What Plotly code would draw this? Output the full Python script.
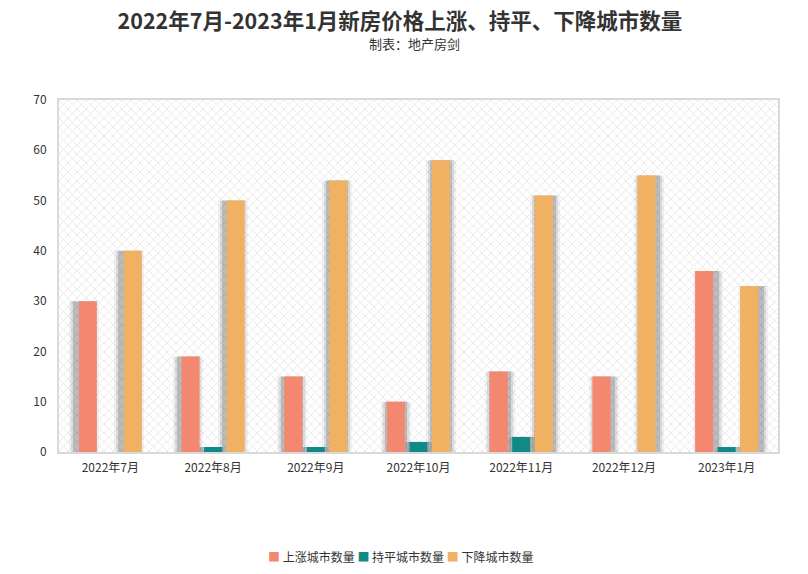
import base64
import plotly.graph_objects as go

months = ["2022年7月", "2022年8月", "2022年9月", "2022年10月", "2022年11月", "2022年12月", "2023年1月"]
rise = [30, 19, 15, 10, 16, 15, 36]
flat = [0, 1, 1, 2, 3, 0, 1]
fall = [40, 50, 54, 58, 51, 55, 33]
names = ["上涨城市数量", "持平城市数量", "下降城市数量"]
colors = ["#F4876F", "#0F8A86", "#F0B262"]
series = [rise, flat, fall]

font = "Noto Sans CJK SC, Microsoft YaHei, sans-serif"

# geometry (in category units): one category ~ 102.7 px
px = 1 / 102.7
bar_w = 18 * px
slot = 22.5 * px
slot_offsets = [-slot, 0.0, slot]

fig = go.Figure()

# soft drop shadows (drawn first so they sit beneath the bars)
n = len(months)
for k, vals in enumerate(series):
    base_off = slot_offsets[k] - bar_w / 2
    for extra, alpha in [(12, 0.05), (8, 0.09), (4, 0.15)]:
        offs = [base_off - extra / 2 * px + (i - (n - 1) / 2) * 1.3 * px for i in range(n)]
        fig.add_trace(go.Bar(
            x=months, y=vals, width=bar_w + extra * px, offset=offs,
            marker=dict(color=f"rgba(0,0,0,{alpha})", line=dict(width=0)),
            showlegend=False, hoverinfo="skip"))

for k, (name, vals, col) in enumerate(zip(names, series, colors)):
    fig.add_trace(go.Bar(
        x=months, y=vals, name=name, width=bar_w, offset=slot_offsets[k] - bar_w / 2,
        marker=dict(color=col, line=dict(width=0)), showlegend=False))

# hatch background for the plot area
svg = ('<svg xmlns="http://www.w3.org/2000/svg" width="719" height="352">'
       '<defs><pattern id="p" width="9" height="9" patternUnits="userSpaceOnUse">'
       '<path d="M0,0 L9,9 M9,0 L0,9" stroke="#ebebeb" stroke-width="1" fill="none"/>'
       '</pattern></defs><rect width="100%" height="100%" fill="white"/>'
       '<rect width="100%" height="100%" fill="url(#p)"/></svg>')
svg_uri = "data:image/svg+xml;base64," + base64.b64encode(svg.encode()).decode()

legend_text = " ".join(
    f"<span style='color:{c}'>■</span> {nm}" for nm, c in zip(names, colors))

fig.update_layout(
    width=808, height=574,
    margin=dict(l=59, r=30, t=100, b=122),
    barmode="overlay",
    paper_bgcolor="white", plot_bgcolor="rgba(0,0,0,0)",
    font=dict(family=font, size=12, color="#333333"),
    title=dict(text="<b>2022年7月-2023年1月新房价格上涨、持平、下降城市数量</b>",
               x=0.495, xanchor="center", y=1 - 21 / 574, yanchor="middle",
               font=dict(size=21.5, color="#333333", family=font)),
    images=[dict(source=svg_uri, xref="paper", yref="paper", x=0, y=1, sizex=1, sizey=1,
                 sizing="stretch", layer="below", xanchor="left", yanchor="top")],
    annotations=[
        dict(text="制表：地产房剑", x=0.495, xref="paper", y=1 + (100 - 43) / 352, yref="paper",
             yanchor="middle", showarrow=False, font=dict(size=13, color="#333333")),
        dict(text=legend_text, x=(266 - 59) / 719, xref="paper", xanchor="left",
             y=(452 - 556) / 352, yref="paper", yanchor="middle", showarrow=False,
             font=dict(size=12, color="#333333")),
    ],
    showlegend=False,
)

fig.update_xaxes(showline=True, linecolor="#d9d9d9", linewidth=2, mirror=True,
                 showgrid=False, ticks="", ticklabelstandoff=4,
                 tickfont=dict(size=12, color="#333333"))
fig.update_yaxes(range=[0, 70], dtick=10, showline=True, linecolor="#d9d9d9", linewidth=2,
                 mirror=True, showgrid=False, zeroline=False, ticks="",
                 ticklabelstandoff=8, tickfont=dict(size=12, color="#333333"))

fig.write_html("out.html")
